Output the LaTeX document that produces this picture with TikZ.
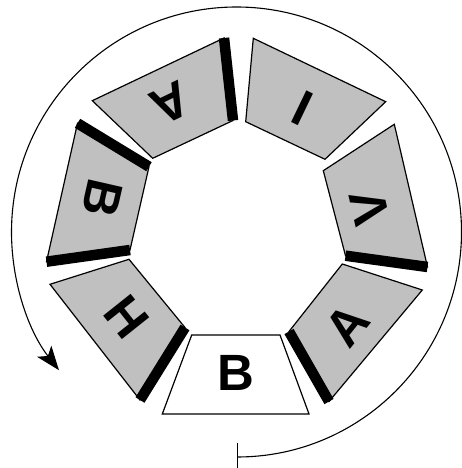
\documentclass[tikz,border=0pt]{standalone}
\usepackage{fontspec}
\setmainfont{Liberation Sans}
\usetikzlibrary{arrows.meta}
\definecolor{piecegray}{RGB}{192,192,192}
\begin{document}
\begin{tikzpicture}[x=1pt,y=1pt,
  piece/.style={draw=black,line width=1.2pt,line join=miter,fill=piecegray},
  blank/.style={draw=black,line width=1.2pt,line join=miter,fill=white},
  thickbar/.style={line width=10.5pt,line cap=butt},
  letter/.style={font=\fontsize{51}{60}\selectfont\bfseries,inner sep=0pt,anchor=center},
  ring/.style={line width=1.1pt}]
\useasboundingbox (0,0) rectangle (461,468);
% piece 1 (bottom, white)
\coordinate (p1a) at (191.7,133); \coordinate (p1b) at (280,133);
\coordinate (p1c) at (309,54);    \coordinate (p1d) at (162.3,54);
\draw[blank] (p1a) -- (p1b) -- (p1c) -- (p1d) -- cycle;
\node[letter] (l1) at (235.8,95.5) {B};
% piece 2
\coordinate (p2a) at (342.3,204); \coordinate (p2b) at (422.3,178);
\coordinate (p2c) at (329,66.5);  \coordinate (p2d) at (289,136.5);
\draw[piece] (p2a) -- (p2b) -- (p2c) -- (p2d) -- cycle;
\draw[thickbar] (p2d) -- (p2c);
\node[letter,rotate=51.43] (l2) at (347,143) {A};
% piece 3
\coordinate (p3a) at (394.3,343.7); \coordinate (p3b) at (323.3,297.3);
\coordinate (p3c) at (345.5,212.3); \coordinate (p3d) at (427.5,201);
\draw[piece] (p3a) -- (p3b) -- (p3c) -- (p3d) -- cycle;
\draw[thickbar] (p3c) -- (p3d);
\node[letter,rotate=102.86] (l3) at (370,260) {V};
% piece 4
\coordinate (p4a) at (253.3,429.7); \coordinate (p4b) at (385.7,366.3);
\coordinate (p4c) at (325,308.7);   \coordinate (p4d) at (245.7,346.3);
\draw[piece] (p4a) -- (p4b) -- (p4c) -- (p4d) -- cycle;
\node[letter,rotate=154.29] (l4) at (303,359.5) {I};
% piece 5
\coordinate (p5a) at (92.3,367.3); \coordinate (p5b) at (224,430);
\coordinate (p5c) at (233,347.5);  \coordinate (p5d) at (152.7,309.7);
\draw[piece] (p5a) -- (p5b) -- (p5c) -- (p5d) -- cycle;
\draw[thickbar] (p5b) -- (p5c);
\node[letter,rotate=205.71] (l5) at (171,365) {A};
% piece 6
\coordinate (p6a) at (77.5,344.7); \coordinate (p6b) at (149,301.3);
\coordinate (p6c) at (130,218);    \coordinate (p6d) at (46.5,206.3);
\draw[piece] (p6a) -- (p6b) -- (p6c) -- (p6d) -- cycle;
\draw[thickbar] (p6a) -- (p6b);
\draw[thickbar] (p6c) -- (p6d);
\node[letter,rotate=257.14] (l6) at (102.5,269.5) {B};
% piece 7
\coordinate (p7a) at (50,183.7);  \coordinate (p7b) at (129,208.7);
\coordinate (p7c) at (185,140.5); \coordinate (p7d) at (140,68);
\draw[piece] (p7a) -- (p7b) -- (p7c) -- (p7d) -- cycle;
\draw[thickbar] (p7c) -- (p7d);
\node[letter,rotate=308.57] (l7) at (127,151) {H};
% ring arrow
\coordinate (start) at (236.5,11);
\draw[ring,{Bar[width=28pt]}-{Stealth[length=24pt,width=18pt,inset=6pt]}]
  (start) arc[start angle=270,end angle=577.9,radius=225];
\end{tikzpicture}
\end{document}
